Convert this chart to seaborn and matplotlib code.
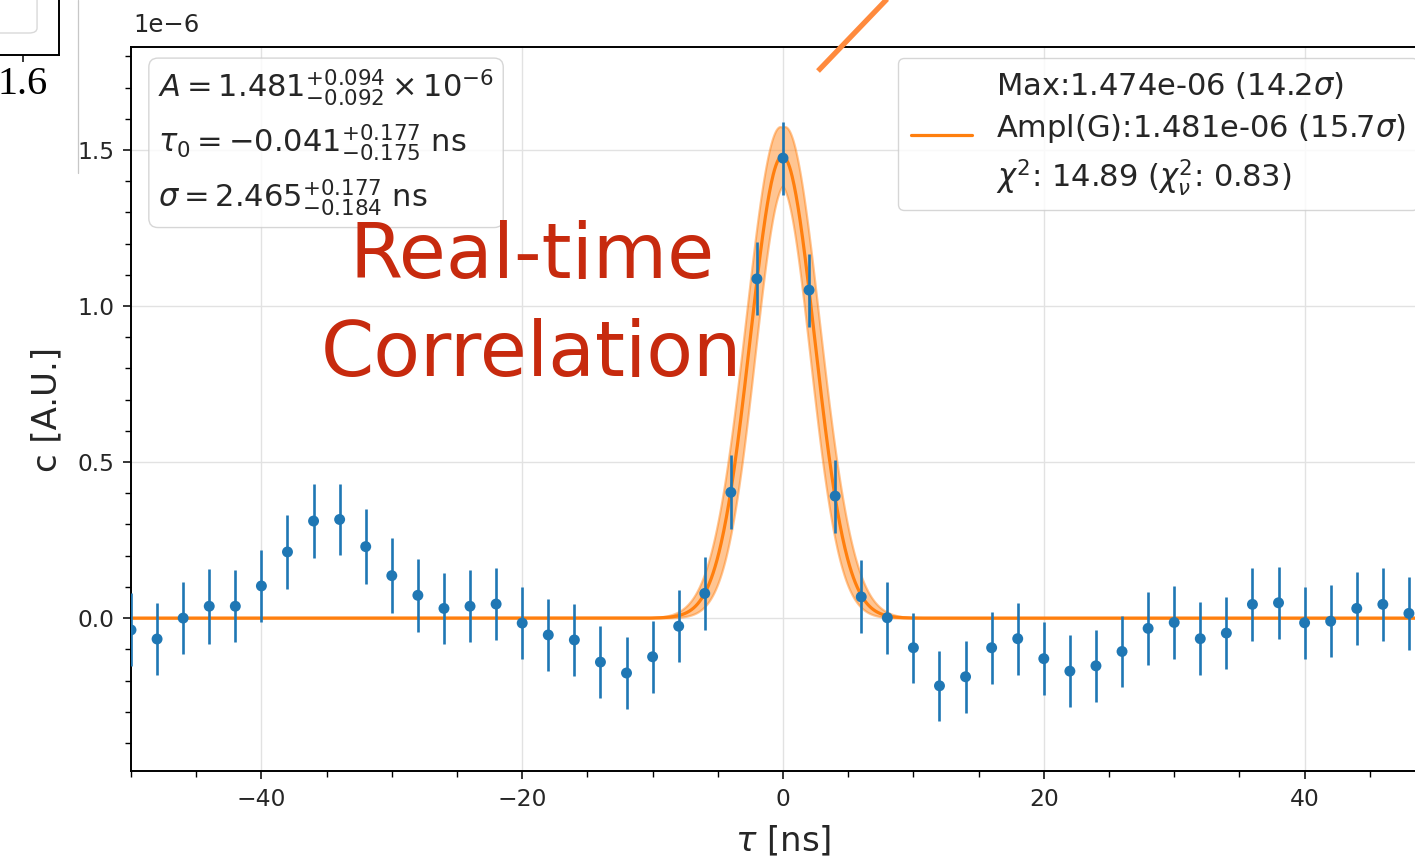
import numpy as np
import matplotlib
matplotlib.use("Agg")
import matplotlib.pyplot as plt
import seaborn as sns
from matplotlib.ticker import MultipleLocator
from matplotlib.patches import Rectangle, FancyBboxPatch
from matplotlib.lines import Line2D

# ---- measured correlation (time lag in ns, amplitude in A.U.) ----
tau_ns = list(range(-50, 50, 2))
corr_e6 = [-0.038, -0.067, 0.000, 0.038, 0.038, 0.103, 0.212, 0.311, 0.316, 0.229,
           0.136, 0.073, 0.031, 0.038, 0.045, -0.016, -0.054, -0.070, -0.141, -0.176,
           -0.124, -0.026, 0.079, 0.403, 1.087, 1.474, 1.051, 0.391, 0.068, 0.001,
           -0.095, -0.217, -0.188, -0.095, -0.066, -0.130, -0.170, -0.153, -0.107, -0.033,
           -0.014, -0.066, -0.048, 0.044, 0.049, -0.015, -0.010, 0.031, 0.044, 0.015]
err_e6 = [0.117, 0.116, 0.116, 0.120, 0.116, 0.115, 0.118, 0.119, 0.115, 0.120,
          0.120, 0.116, 0.115, 0.116, 0.116, 0.116, 0.116, 0.116, 0.115, 0.116,
          0.115, 0.116, 0.117, 0.118, 0.117, 0.117, 0.117, 0.117, 0.117, 0.116,
          0.112, 0.112, 0.115, 0.115, 0.115, 0.116, 0.116, 0.115, 0.115, 0.116,
          0.116, 0.116, 0.116, 0.116, 0.116, 0.116, 0.116, 0.116, 0.116, 0.116]

# ---- Gaussian fit results ----
fit_amp_e6, amp_up, amp_dn = 1.481, 0.094, 0.092
fit_tau0, tau0_up, tau0_dn = -0.041, 0.177, 0.175
fit_sigma, sig_up, sig_dn = 2.465, 0.177, 0.184
max_e6, max_signif = 1.474, 14.2
ampl_signif = 15.7
chi2, chi2_red = 14.89, 0.83

x_range = (-50, 50)
y_range_e6 = (-0.49, 1.83)

BLUE = "#1f77b4"
ORANGE = "#ff7f0e"
TEXT = "#262626"

sns.set_theme(style="ticks")
plt.rcParams["font.family"] = ["DejaVu Sans"]
plt.rcParams["mathtext.fontset"] = "dejavusans"

W, H = 1415, 866
fig = plt.figure(figsize=(W / 100, H / 100), dpi=100)
fig.patch.set_facecolor("white")
ax = fig.add_axes([131 / W, 95 / H, 1304 / W, 724 / H])
ax.set_facecolor("white")


def gauss(t, a, t0, s):
    return a * np.exp(-0.5 * ((t - t0) / s) ** 2)


t_fine = np.linspace(x_range[0], x_range[1], 2001)
model = gauss(t_fine, fit_amp_e6 * 1e-6, fit_tau0, fit_sigma)
curves = [gauss(t_fine, a * 1e-6, t0, s)
          for a in (fit_amp_e6 - amp_dn, fit_amp_e6 + amp_up)
          for t0 in (fit_tau0 - tau0_dn, fit_tau0 + tau0_up)
          for s in (fit_sigma - sig_dn, fit_sigma + sig_up)]
band_lo = np.min(curves, axis=0)
band_hi = np.max(curves, axis=0)

legend_label = (f"Max:{max_e6:.3f}e-06 ({max_signif}$\\sigma$)\n"
                f"Ampl(G):{fit_amp_e6:.3f}e-06 ({ampl_signif}$\\sigma$)\n"
                f"$\\chi^2$: {chi2} ($\\chi^2_\\nu$: {chi2_red})")

ax.fill_between(t_fine, band_lo, band_hi, color=ORANGE, alpha=0.45, lw=1.6, zorder=2)
sns.lineplot(x=t_fine, y=model, color=ORANGE, lw=2.3, ax=ax, label=legend_label, zorder=3)

corr = np.array(corr_e6) * 1e-6
err = np.array(err_e6) * 1e-6
ax.errorbar(tau_ns, corr, yerr=err, fmt="none", ecolor=BLUE, elinewidth=1.9,
            capsize=0, zorder=4)
sns.scatterplot(x=tau_ns, y=corr, color=BLUE, s=62, edgecolor="none", ax=ax,
                zorder=5, legend=False)

ax.set_xlim(*x_range)
ax.set_ylim(y_range_e6[0] * 1e-6, y_range_e6[1] * 1e-6)
ax.xaxis.set_major_locator(MultipleLocator(20))
ax.xaxis.set_minor_locator(MultipleLocator(5))
ax.yaxis.set_major_locator(MultipleLocator(0.5e-6))
ax.yaxis.set_minor_locator(MultipleLocator(0.1e-6))
ax.grid(True, which="major", color="#e2e2e2", lw=1.0)
ax.set_axisbelow(True)
ax.tick_params(which="major", length=6, width=1.1, labelsize=16.8, pad=6,
               colors="black", labelcolor=TEXT, direction="out")
ax.tick_params(which="minor", length=4, width=1.0, colors="black", direction="out")
for sp in ax.spines.values():
    sp.set_color("black")
    sp.set_linewidth(1.4)
    sp.set_visible(True)

# scale factor label above the y axis
ax.yaxis.get_offset_text().set_visible(False)
ax.text(0.0015, 1.014, "1e\u22126", transform=ax.transAxes, ha="left", va="bottom",
        fontsize=17.5, color=TEXT)

ax.set_xlabel(r"$\tau$ [ns]", fontsize=24.5, color=TEXT)
ax.set_ylabel("c [A.U.]", fontsize=24.5, color=TEXT)
ax.xaxis.set_label_coords(0.5, -0.073)
ax.yaxis.set_label_coords(-0.052, 0.5)

leg = ax.legend(loc="upper right", bbox_to_anchor=(0.987, 0.985), borderaxespad=0,
                fontsize=22, framealpha=0.8, edgecolor="0.8", fancybox=True)
for txt in leg.get_texts():
    txt.set_color(TEXT)
    txt.set_linespacing(1.42)

param_text = "\n".join([
    f"$A = {fit_amp_e6:.3f}^{{+{amp_up:.3f}}}_{{-{amp_dn:.3f}}} \\times 10^{{-6}}$",
    f"$\\tau_0 = {fit_tau0:.3f}^{{+{tau0_up:.3f}}}_{{-{tau0_dn:.3f}}}$ ns",
    f"$\\sigma = {fit_sigma:.3f}^{{+{sig_up:.3f}}}_{{-{sig_dn:.3f}}}$ ns",
])
ax.text(0.0207, 0.972, param_text, transform=ax.transAxes, ha="left", va="top",
        fontsize=22, color=TEXT, zorder=6, linespacing=1.47,
        bbox=dict(boxstyle="round,pad=0.3", fc="white", ec="0.8", alpha=0.8))

# hand-drawn style callout
fig.text(532 / W, 1 - 257 / H, "Real-time", ha="center", va="center",
         fontsize=55, color="#c72a0e")
fig.text(531 / W, 1 - 355 / H, "Correlation", ha="center", va="center",
         fontsize=55, color="#c72a0e")
fig.add_artist(Line2D([818 / W, 889 / W], [1 - 71 / H, 1 + 3 / H],
                      transform=fig.transFigure, color="#ff8a3d", lw=3.8,
                      solid_capstyle="butt", zorder=8))

# neighbouring panel peeking in at the top-left corner
fig.add_artist(Rectangle((0, 1 - 173 / H), 78 / W, 173 / H, transform=fig.transFigure,
                         fc="white", ec="none", zorder=5))
fig.add_artist(Line2D([78 / W, 78 / W], [1 - 173 / H, 1], transform=fig.transFigure,
                      color="0.78", lw=0.9, zorder=6))
inset = fig.add_axes([-100 / W, 1 - 55 / H, 159 / W, 100 / H], zorder=7)
inset.set_facecolor("white")
inset.set_xlim(0.986, 1.786)
inset.set_ylim(0, 1)
inset.set_xticks([1.605])
inset.set_xticklabels(["1.6"], fontfamily="Liberation Serif", fontsize=29, color="black")
inset.set_yticks([])
inset.tick_params(axis="x", length=5, width=1.1, pad=3, colors="black")
for sp in inset.spines.values():
    sp.set_color("black")
    sp.set_linewidth(1.4)
inset.add_patch(FancyBboxPatch((-0.5, 0.22), 1.362, 2.0, transform=inset.transAxes,
                               boxstyle="round,pad=0,rounding_size=0.05",
                               fc="white", ec="0.85", lw=1.0))

fig.savefig("out.png", dpi=100, facecolor="white")
